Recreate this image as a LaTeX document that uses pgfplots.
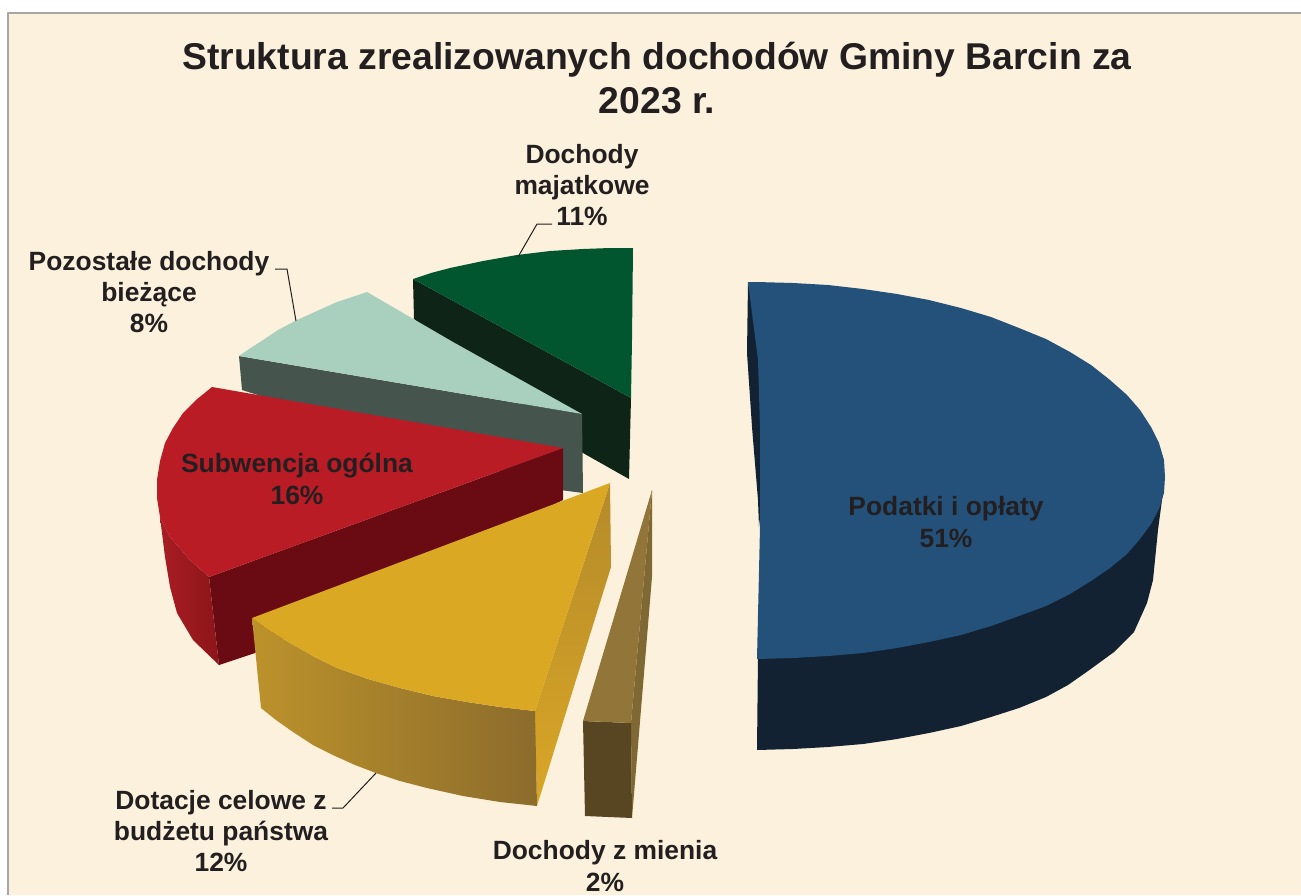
\documentclass[border=0pt]{standalone}
\usepackage{pgfplots}
\usepackage{fontspec}
\setmainfont{Liberation Sans}
\pgfplotsset{compat=1.18}
\definecolor{paper}{RGB}{251,241,220}
\definecolor{ink}{RGB}{35,31,32}
\definecolor{frame}{RGB}{166,166,166}
\definecolor{bluetop}{RGB}{36,81,122}
\definecolor{blueside}{RGB}{18,34,50}
\definecolor{greentop}{RGB}{2,86,47}
\definecolor{greenside}{RGB}{14,36,22}
\definecolor{minttop}{RGB}{169,207,190}
\definecolor{mintside}{RGB}{70,84,78}
\definecolor{redtop}{RGB}{186,28,37}
\definecolor{redside}{RGB}{106,10,18}
\definecolor{redoutl}{RGB}{168,29,36}
\definecolor{redoutr}{RGB}{140,21,25}
\definecolor{goldtop}{RGB}{219,168,36}
\definecolor{goldcuta}{RGB}{181,138,42}
\definecolor{goldcutb}{RGB}{217,167,38}
\definecolor{goldoutl}{RGB}{188,146,43}
\definecolor{goldoutr}{RGB}{140,108,44}
\definecolor{browntop}{RGB}{145,117,57}
\definecolor{brownside}{RGB}{127,104,51}
\definecolor{brownfront}{RGB}{88,69,33}
\tikzset{lab/.style={font=\fontsize{13.2}{15.6}\selectfont\bfseries, text=ink, align=center, inner sep=0pt},
  leader/.style={draw=ink, line width=0.5pt}}
\begin{document}
\begin{tikzpicture}
\begin{axis}[
  hide axis, scale only axis,
  width=650.5pt, height=447.5pt,
  xmin=0, xmax=1301, ymin=0, ymax=895,
  y dir=reverse, clip=true,
  every axis plot/.append style={no markers, line join=round},
]
% page and paper
\addplot[fill=white, draw=none] coordinates {(0,0)(1301,0)(1301,895)(0,895)(0,0)};
\addplot[fill=paper, draw=none] coordinates {(8,13)(1301,13)(1301,895)(8,895)(8,13)};
\addplot[draw=frame, line width=0.8pt] coordinates {(8,895)(8,13)(1301,13)};

% Dochody majatkowe 11%
\addplot[fill=greenside, draw=none] coordinates {(413,279)(631,398)(629,479)(583,453)(414,319)(413,279)};
\addplot[fill=greentop, draw=none] coordinates {(413,279)(431,273)(450,268)(483,261)(517,255)(550,251)(583,249)(610,248)(633,248)(632,340)(631,398)(413,279)};

% Pozostale dochody biezace 8%
\addplot[fill=mintside, draw=none] coordinates {(239,356)(582,414)(583,493)(560,490)(242,390)(239,356)};
\addplot[fill=minttop, draw=none] coordinates {(239,356)(249,349)(260,342)(278,330)(297,320)(317,311)(337,302)(352,297)(367,292)(453,342)(582,414)(239,356)};

% Subwencja ogolna 16%
\addplot[fill=redside, draw=none] coordinates {(209,577)(563,448)(563,500)(255,653)(219,665)(209,577)};
\addplot[left color=redoutl, right color=redoutr, draw=none] coordinates {(160,517)(170,537)(190,560)(209,577)(219,665)(193,640)(177,613)(170,587)(165,557)(160,517)};
\addplot[fill=redtop, draw=none] coordinates {(212,387)(196,400)(183,413)(173,428)(165,443)(160,461)(157,480)(157,498)(160,517)(170,537)(190,560)(209,577)(563,448)(212,387)};

% Dotacje celowe 12%
\addplot[top color=goldcuta, bottom color=goldcutb, draw=none] coordinates {(610,483)(611,567)(537,806)(535,711)(610,483)};
\addplot[left color=goldoutl, right color=goldoutr, draw=none] coordinates {(252,618)(270,631)(290,643)(313,656)(337,668)(368,679)(400,688)(433,696)(467,702)(500,707)(535,711)(537,806)(500,802)(463,796)(427,788)(400,781)(376,773)(355,765)(335,756)(313,745)(293,732)(276,720)(261,708)(252,618)};
\addplot[fill=goldtop, draw=none] coordinates {(252,618)(337,586)(610,483)(535,711)(500,707)(467,702)(433,696)(400,688)(368,679)(337,668)(313,656)(290,643)(270,631)(252,618)};

% Dochody z mienia 2%
\addplot[fill=brownside, draw=none] coordinates {(652,490)(652,577)(632,818)(631,723)(652,490)};
\addplot[fill=brownfront, draw=none] coordinates {(583,721)(631,723)(632,818)(585,816)(583,721)};
\addplot[fill=browntop, draw=none] coordinates {(652,490)(583,721)(631,723)(652,490)};

% Podatki i oplaty 51%
\addplot[fill=blueside, draw=none] coordinates {(748,282)(747,353)(752,427)(758,500)(759,527)(762,500)(762,360)(748,282)};
\addplot[fill=blueside, draw=none] coordinates {(1163,493)(1162,500)(1158,530)(1153,580)(1147,603)(1134,632)(1114,652)(1088,671)(1068,685)(1046,697)(1019,708)(991,717)(961,726)(929,733)(897,739)(863,744)(828,747)(793,749)(757,750)(758,655)(1000,600)(1163,493)};
\addplot[fill=bluetop, draw=none] coordinates {(748,282)(757,282)(793,283)(828,285)(863,289)(897,294)(929,300)(961,308)(991,317)(1019,328)(1046,339)(1070,352)(1091,365)(1110,380)(1127,395)(1140,410)(1151,427)(1159,443)(1164,460)(1165,477)(1164,493)(1159,509)(1151,524)(1140,539)(1127,554)(1110,568)(1091,581)(1070,594)(1046,606)(1019,616)(991,626)(961,635)(929,642)(897,648)(863,653)(828,656)(793,658)(757,659)(760,527)(760,427)(758,360)(748,282)};

% leader lines
\addplot[leader] coordinates {(552,224)(537,224)(518,257)};
\addplot[leader] coordinates {(275,269)(287,269)(296,321)};
\addplot[leader] coordinates {(332,808)(343,808)(376,773)};

% texts
\node[font=\fontsize{18.65}{22}\selectfont\bfseries, text=ink, align=center, inner sep=0pt] at (axis cs:657,78) {Struktura zrealizowanych dochodów Gminy Barcin za\\2023 r.};
\node[lab] at (axis cs:582,185) {Dochody\\majatkowe\\11\%};
\node[lab] at (axis cs:149,292) {Pozostałe dochody\\bieżące\\8\%};
\node[lab] at (axis cs:297,479) {Subwencja ogólna\\16\%};
\node[lab] at (axis cs:946,522) {Podatki i opłaty\\51\%};
\node[lab] at (axis cs:221,831) {Dotacje celowe z\\budżetu państwa\\12\%};
\node[lab] at (axis cs:605,866) {Dochody z mienia\\2\%};
\end{axis}
\end{tikzpicture}
\end{document}
